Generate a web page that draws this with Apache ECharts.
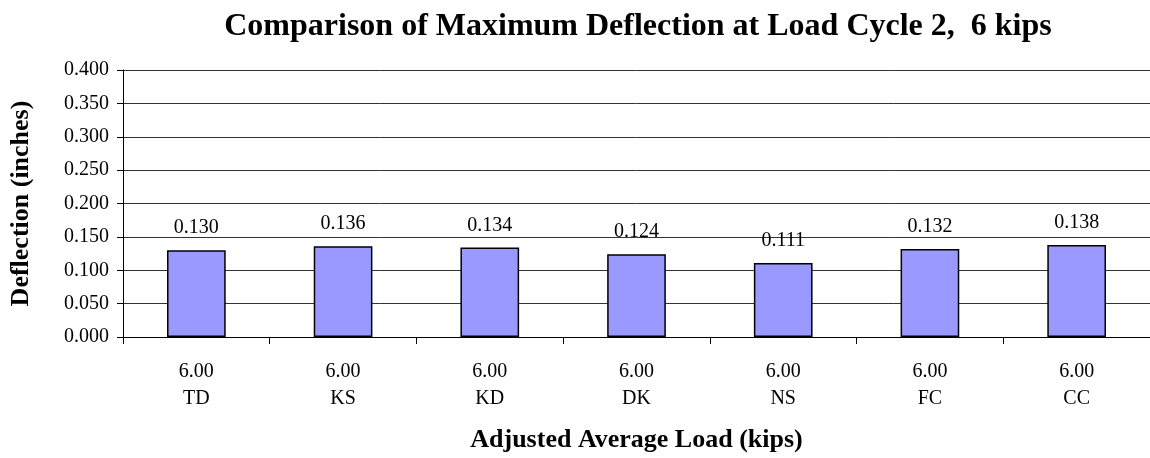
<!DOCTYPE html>
<html>
<head>
<meta charset="utf-8">
<script src="https://cdn.jsdelivr.net/npm/echarts@6/dist/echarts.min.js"></script>
<style>
  html, body { margin: 0; padding: 0; background: #fff; }
  #chart { width: 1150px; height: 458px; }
</style>
</head>
<body>
<div id="chart"></div>
<script>
// Specimen codes and the adjusted average load applied to each
const specimens = ['TD', 'KS', 'KD', 'DK', 'NS', 'FC', 'CC'];
const loads = ['6.00', '6.00', '6.00', '6.00', '6.00', '6.00', '6.00'];
// Maximum deflection (inches) at load cycle 2
const deflections = [0.130, 0.136, 0.134, 0.124, 0.111, 0.132, 0.138];

const serif = '"Liberation Serif", "Times New Roman", serif';
const categories = specimens.map((s, i) => loads[i] + '\n' + s);

const chart = echarts.init(document.getElementById('chart'));
chart.setOption({
  animation: false,
  backgroundColor: '#ffffff',
  title: {
    text: 'Comparison of Maximum Deflection at Load Cycle 2,  6 kips',
    left: 633,
    textAlign: 'center',
    top: 6,
    textStyle: { fontFamily: serif, fontSize: 32, fontWeight: 'bold', color: '#000' }
  },
  grid: { left: 122, top: 70, width: 1035, height: 267, containLabel: false },
  xAxis: {
    type: 'category',
    data: categories,
    name: 'Adjusted Average Load (kips)',
    nameLocation: 'middle',
    nameGap: 90,
    nameTextStyle: { fontFamily: serif, fontSize: 26, fontWeight: 'bold', color: '#000' },
    axisLine: { lineStyle: { color: '#000', width: 1 } },
    axisTick: { show: true, length: 7, lineStyle: { color: '#000' } },
    axisLabel: {
      fontFamily: serif, fontSize: 20, color: '#000',
      lineHeight: 27, margin: 21
    }
  },
  yAxis: {
    type: 'value',
    min: 0, max: 0.4, interval: 0.05,
    name: 'Deflection (inches)',
    nameLocation: 'middle',
    nameGap: 89,
    nameTextStyle: { fontFamily: serif, fontSize: 26, fontWeight: 'bold', color: '#000' },
    axisLine: { show: true, lineStyle: { color: '#000', width: 1 } },
    axisTick: { show: true, length: 6, lineStyle: { color: '#000' } },
    axisLabel: {
      fontFamily: serif, fontSize: 20, color: '#000', margin: 14,
      formatter: v => v.toFixed(3)
    },
    splitLine: { show: true, lineStyle: { color: '#333', width: 1 } }
  },
  series: [{
    type: 'bar',
    data: deflections,
    barWidth: '40%',
    itemStyle: { color: '#9999ff', borderColor: '#000', borderWidth: 1.5 },
    label: {
      show: true, position: 'top', distance: 12,
      fontFamily: serif, fontSize: 20, color: '#000',
      formatter: p => p.value.toFixed(3)
    }
  }]
});
</script>
</body>
</html>
